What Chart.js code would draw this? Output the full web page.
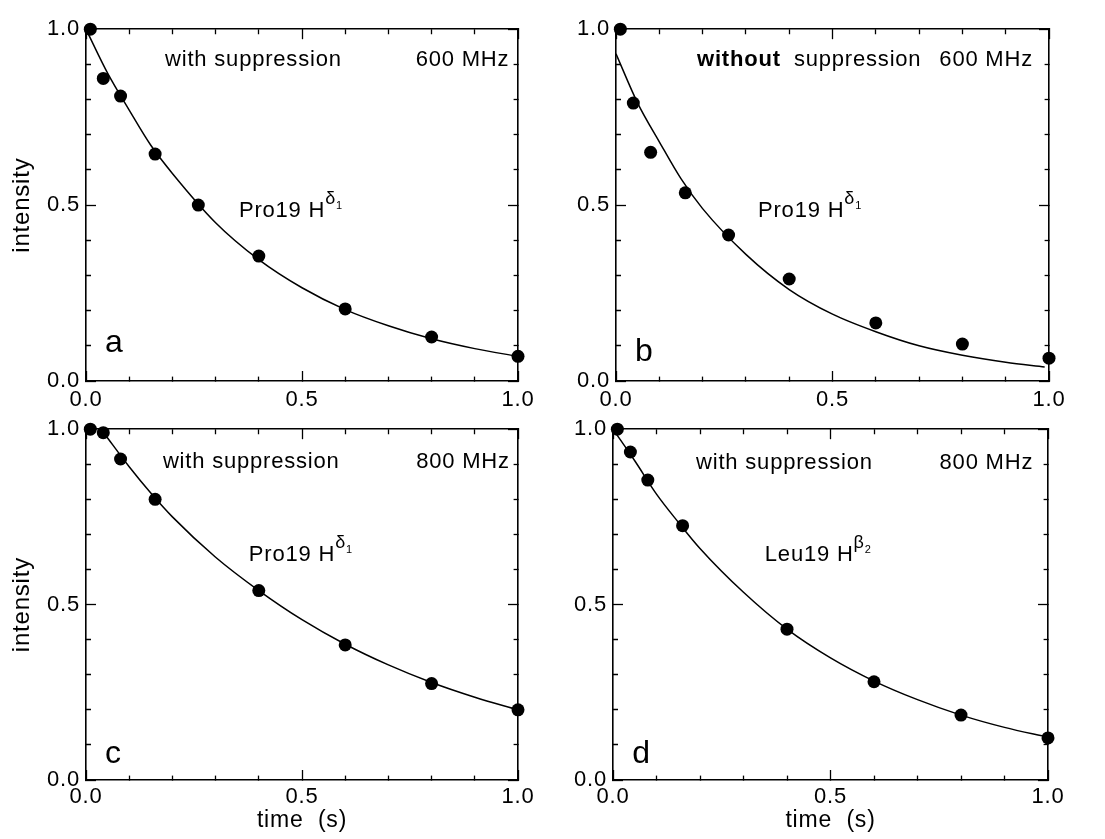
<!DOCTYPE html>
<html>
<head>
<meta charset="utf-8">
<script src="https://cdn.jsdelivr.net/npm/chart.js@4.4.1/dist/chart.umd.min.js"></script>
<style>
  html, body { margin: 0; padding: 0; background: #fff; }
  body { width: 1105px; height: 839px; position: relative; overflow: hidden; }
  .panel { position: absolute; }
</style>
</head>
<body>
<div class="panel" style="left:0;top:0"><canvas id="panelA" width="552" height="420"></canvas></div>
<div class="panel" style="left:552px;top:0"><canvas id="panelB" width="553" height="420"></canvas></div>
<div class="panel" style="left:0;top:400px"><canvas id="panelC" width="552" height="439"></canvas></div>
<div class="panel" style="left:552px;top:400px"><canvas id="panelD" width="553" height="439"></canvas></div>
<script>
// measured points (time in s, normalised intensity)
const timeA = [0.01, 0.04, 0.08, 0.16, 0.26, 0.40, 0.60, 0.80, 1.00];
const intensityA = [1.00, 0.86, 0.81, 0.645, 0.50, 0.355, 0.205, 0.125, 0.07];
const timeB = [0.01, 0.04, 0.08, 0.16, 0.26, 0.40, 0.60, 0.80, 1.00];
const intensityB = [1.00, 0.79, 0.65, 0.535, 0.415, 0.29, 0.165, 0.105, 0.065];
const timeC = [0.01, 0.04, 0.08, 0.16, 0.40, 0.60, 0.80, 1.00];
const intensityC = [1.00, 0.99, 0.915, 0.80, 0.54, 0.385, 0.275, 0.20];
const timeD = [0.01, 0.04, 0.08, 0.16, 0.40, 0.60, 0.80, 1.00];
const intensityD = [1.00, 0.935, 0.855, 0.725, 0.43, 0.28, 0.185, 0.12];

// fitted curves
const fitTimeA = [0, 0.05, 0.1, 0.15, 0.2, 0.3, 0.4, 0.5, 0.6, 0.7, 0.8, 0.9, 1.0];
const fitA = [1.0, 0.875, 0.77, 0.67, 0.59, 0.45, 0.345, 0.265, 0.203, 0.157, 0.12, 0.092, 0.07];
const fitTimeB = [0, 0.05, 0.1, 0.15, 0.2, 0.3, 0.4, 0.5, 0.6, 0.7, 0.8, 0.9, 0.99];
const fitB = [0.93, 0.79, 0.68, 0.575, 0.49, 0.36, 0.26, 0.19, 0.14, 0.10, 0.073, 0.053, 0.04];
const fitTimeC = [0.035, 0.05, 0.1, 0.15, 0.2, 0.3, 0.4, 0.5, 0.6, 0.7, 0.8, 0.9, 1.0];
const fitC = [1.0, 0.975, 0.893, 0.818, 0.75, 0.635, 0.54, 0.457, 0.387, 0.328, 0.278, 0.236, 0.20];
const fitTimeD = [0, 0.05, 0.1, 0.15, 0.2, 0.3, 0.4, 0.5, 0.6, 0.7, 0.8, 0.9, 1.0];
const fitD = [1.0, 0.91, 0.815, 0.735, 0.66, 0.535, 0.43, 0.348, 0.282, 0.229, 0.185, 0.15, 0.122];

const tickLabels = ['0.0', '0.5', '1.0'];

const FONT = '"Liberation Sans", Arial, Helvetica, sans-serif';
const MAJOR = 10, MINOR = 5;

Chart.defaults.font.family = FONT;
Chart.defaults.font.size = 22;
Chart.defaults.color = '#000';

const pairs = (xs, ys) => xs.map((x, i) => ({ x, y: ys[i] }));
const isMajor = v => Math.abs(v * 2 - Math.round(v * 2)) < 1e-6;
const label = v => isMajor(v) ? tickLabels[Math.round(v * 2)] : '';

// dash trick: minor ticks shorter than major, drawn from the frame inward
function tickDash(fromInside) {
    return c => isMajor(c.tick.value) ? [] : (fromInside ? [0, MAJOR - MINOR, MINOR, 100] : [MINOR, 100]);
}

function axis(position, extra) {
    const fromInside = position === 'top' || position === 'left';
    return Object.assign({
        type: 'linear', position, min: 0, max: 1,
        border: { color: '#000', width: 1.6 },
        grid: {
            drawOnChartArea: false, drawTicks: true, tickLength: -MAJOR,
            tickWidth: 1.3, tickColor: '#000', tickBorderDash: tickDash(fromInside)
        },
        ticks: { stepSize: 0.1, autoSkip: false, display: false, maxRotation: 0 }
    }, extra);
}

const annotate = {
    id: 'annotate',
    beforeDraw(chart) {
        chart.ctx.letterSpacing = '0.8px';
    },
    afterDraw(chart, args, opts) {
        const { ctx, scales: { x, y } } = chart;
        ctx.save();
        ctx.fillStyle = '#000';
        ctx.textBaseline = 'alphabetic';
        ctx.textAlign = 'left';
        const fontOf = r => `${r.bold ? 'bold ' : ''}${r.size || 22}px ${FONT}`;
        for (const item of opts.items || []) {
            let px = x.getPixelForValue(item.x);
            const py = y.getPixelForValue(item.y);
            if (item.align === 'right') {
                let w = 0;
                item.runs.forEach(r => { ctx.font = fontOf(r); w += ctx.measureText(r.text).width; });
                px -= w;
            }
            item.runs.forEach(r => {
                ctx.font = fontOf(r);
                ctx.fillText(r.text, px, py - (r.rise || 0));
                px += ctx.measureText(r.text).width;
            });
        }
        ctx.restore();
    }
};

const residue = (name, greek, sub) => [
    { text: name + ' H' }, { text: greek, size: 18, rise: 13 }, { text: sub, size: 11, rise: 8 }
];

function makePanel(id, cfg) {
    const scales = {
        x: axis('bottom', {
            ticks: { stepSize: 0.1, autoSkip: false, maxRotation: 0, padding: cfg.xPad, callback: label },
            title: cfg.xTitle
                ? { display: true, text: 'time  (s)', font: { size: 23 }, padding: { top: 0, bottom: 5 } }
                : { display: false },
            afterFit: s => { s.height = cfg.xHeight; }
        }),
        xTop: axis('top', { afterFit: s => { s.height = 0; } }),
        y: axis('left', {
            ticks: { stepSize: 0.1, autoSkip: false, padding: 16, callback: label },
            title: cfg.yTitle
                ? { display: true, text: 'intensity', font: { size: 24 }, padding: { top: 8, bottom: 0 } }
                : { display: false },
            afterFit: s => { s.width = cfg.left; }
        }),
        yRight: axis('right', { afterFit: s => { s.width = 0; } })
    };

    return new Chart(document.getElementById(id), {
        type: 'scatter',
        data: {
            datasets: [{
                label: 'measured',
                data: pairs(cfg.t, cfg.v),
                pointRadius: 6.5,
                pointBackgroundColor: '#000',
                pointBorderWidth: 0,
                showLine: false,
                clip: false
            }, {
                label: 'fit',
                data: pairs(cfg.ft, cfg.fv),
                showLine: true,
                pointRadius: 0,
                borderColor: '#000',
                borderWidth: 1.5,
                cubicInterpolationMode: 'monotone'
            }]
        },
        options: {
            responsive: false,
            animation: false,
            events: [],
            layout: { padding: { left: 0, top: 28, right: cfg.right, bottom: 0 } },
            plugins: {
                legend: { display: false },
                tooltip: { enabled: false },
                annotate: { items: cfg.notes }
            },
            scales
        },
        plugins: [annotate]
    });
}

makePanel('panelA', {
    t: timeA, v: intensityA, ft: fitTimeA, fv: fitA,
    left: 86, right: 34, xHeight: 39, xPad: 16, yTitle: true, xTitle: false,
    notes: [
        { x: 0.183, y: 0.895, runs: [{ text: 'with suppression' }] },
        { x: 0.98, y: 0.895, align: 'right', runs: [{ text: '600 MHz' }] },
        { x: 0.354, y: 0.467, runs: residue('Pro19', 'δ', '1') },
        { x: 0.044, y: 0.082, runs: [{ text: 'a', size: 32 }] }
    ]
});

makePanel('panelB', {
    t: timeB, v: intensityB, ft: fitTimeB, fv: fitB,
    left: 64, right: 56, xHeight: 39, xPad: 16, yTitle: false, xTitle: false,
    notes: [
        { x: 0.187, y: 0.895, runs: [{ text: 'without', bold: true }] },
        { x: 0.411, y: 0.895, runs: [{ text: 'suppression' }] },
        { x: 0.963, y: 0.895, align: 'right', runs: [{ text: '600 MHz' }] },
        { x: 0.328, y: 0.467, runs: residue('Pro19', 'δ', '1') },
        { x: 0.044, y: 0.057, runs: [{ text: 'b', size: 32 }] }
    ]
});

makePanel('panelC', {
    t: timeC, v: intensityC, ft: fitTimeC, fv: fitC,
    left: 86, right: 34, xHeight: 59, xPad: 14, yTitle: true, xTitle: true,
    notes: [
        { x: 0.178, y: 0.889, runs: [{ text: 'with suppression' }] },
        { x: 0.981, y: 0.889, align: 'right', runs: [{ text: '800 MHz' }] },
        { x: 0.377, y: 0.625, runs: residue('Pro19', 'δ', '1') },
        { x: 0.044, y: 0.048, runs: [{ text: 'c', size: 32 }] }
    ]
});

makePanel('panelD', {
    t: timeD, v: intensityD, ft: fitTimeD, fv: fitD,
    left: 61, right: 57, xHeight: 59, xPad: 14, yTitle: false, xTitle: true,
    notes: [
        { x: 0.191, y: 0.886, runs: [{ text: 'with suppression' }] },
        { x: 0.966, y: 0.886, align: 'right', runs: [{ text: '800 MHz' }] },
        { x: 0.349, y: 0.625, runs: residue('Leu19', 'β', '2') },
        { x: 0.044, y: 0.048, runs: [{ text: 'd', size: 32 }] }
    ]
});
</script>
</body>
</html>
